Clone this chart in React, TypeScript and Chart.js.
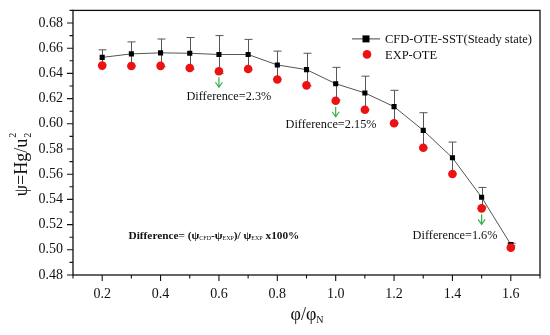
import React, { useEffect, useRef } from "react";
import { Chart, registerables } from "chart.js";

Chart.register(...registerables);

// ---- data ----
const flowRatio = [0.2, 0.3, 0.4, 0.5, 0.6, 0.7, 0.8, 0.9, 1.0, 1.1, 1.2, 1.3, 1.4, 1.5, 1.6];
const cfdHead = [0.6527, 0.6555, 0.6563, 0.656, 0.655, 0.655, 0.6467, 0.643, 0.6318, 0.6245, 0.6136, 0.5948, 0.573, 0.5417, 0.5042];
const cfdError = [0.006, 0.0095, 0.011, 0.0125, 0.015, 0.012, 0.011, 0.013, 0.013, 0.0133, 0.013, 0.014, 0.0125, 0.0078, 0.001];
const expHead = [0.6462, 0.6459, 0.646, 0.6443, 0.6417, 0.6435, 0.6352, 0.6305, 0.6183, 0.6111, 0.6004, 0.581, 0.5602, 0.5329, 0.5017];

const seriesNames = ["CFD-OTE-SST(Steady state)", "EXP-OTE"];

const xMin = 0.1;
const xMax = 1.7;
const yMin = 0.48;
const yMax = 0.69;

// difference notes: arrow at data x, label centred at data (lx, ly)
const noteArrowX = [0.6, 1.0, 1.5];
const noteLabels = ["Difference=2.3%", "Difference=2.15%", "Difference=1.6%"];
const noteLabelX = [0.634, 0.984, 1.409];
const noteLabelY = [0.6214, 0.5995, 0.5113];

const formulaX = 0.583;
const formulaY = 0.5105;

const SERIF = "'Liberation Serif', 'Times New Roman', serif";

const overlayPlugin = {
  id: "overlay",
  beforeDatasetsDraw(chart: any) {
    const ctx = chart.ctx;
    const xs = chart.scales.x;
    const ys = chart.scales.y;
    ctx.save();
    ctx.strokeStyle = "#555";
    ctx.lineWidth = 1;
    flowRatio.forEach((fx, i) => {
      const px = Math.round(xs.getPixelForValue(fx)) + 0.5;
      const top = ys.getPixelForValue(cfdHead[i] + cfdError[i]);
      const bot = ys.getPixelForValue(cfdHead[i] - cfdError[i]);
      ctx.beginPath();
      ctx.moveTo(px, top);
      ctx.lineTo(px, bot);
      ctx.moveTo(px - 4, top);
      ctx.lineTo(px + 4, top);
      ctx.moveTo(px - 4, bot);
      ctx.lineTo(px + 4, bot);
      ctx.stroke();
    });
    ctx.restore();
  },
  afterDraw(chart: any) {
    const ctx = chart.ctx;
    const xs = chart.scales.x;
    const ys = chart.scales.y;
    const ca = chart.chartArea;
    ctx.save();
    // frame
    ctx.strokeStyle = "#111";
    ctx.lineWidth = 1.3;
    ctx.strokeRect(ca.left, ca.top, ca.right - ca.left, ca.bottom - ca.top);
    // ticks
    ctx.lineWidth = 1.1;
    ctx.beginPath();
    xs.ticks.forEach((t: any) => {
      const px = xs.getPixelForValue(t.value);
      const major = Math.round(t.value * 10) % 2 === 0;
      ctx.moveTo(px, ca.bottom);
      ctx.lineTo(px, ca.bottom + (major ? 6 : 3.5));
    });
    ys.ticks.forEach((t: any) => {
      const py = ys.getPixelForValue(t.value);
      const major = Math.round(t.value * 100) % 2 === 0;
      ctx.moveTo(ca.left, py);
      ctx.lineTo(ca.left - (major ? 6 : 3.5), py);
    });
    ctx.stroke();

    // y title: psi=Hg/u_2^2
    ctx.fillStyle = "#111";
    ctx.save();
    ctx.translate(22, 165);
    ctx.rotate(-Math.PI / 2);
    ctx.textBaseline = "middle";
    ctx.font = `18px ${SERIF}`;
    const main = "\u03c8=Hg/u";
    const mw = ctx.measureText(main).width;
    ctx.font = `10px ${SERIF}`;
    const sw = ctx.measureText("2").width;
    const total = mw + sw;
    ctx.font = `18px ${SERIF}`;
    ctx.textAlign = "left";
    ctx.fillText(main, -total / 2, 0);
    ctx.font = `10px ${SERIF}`;
    ctx.fillText("2", -total / 2 + mw + 1, 6);
    ctx.fillText("2", -total / 2 + mw + 1, -9);
    ctx.restore();

    // x title: phi/phi_N
    ctx.save();
    ctx.textBaseline = "middle";
    ctx.font = `18px ${SERIF}`;
    const xt = "\u03c6/\u03c6";
    const xw = ctx.measureText(xt).width;
    ctx.font = `10px ${SERIF}`;
    const nw = ctx.measureText("N").width;
    const xstart = 307 - (xw + nw) / 2;
    ctx.font = `18px ${SERIF}`;
    ctx.textAlign = "left";
    ctx.fillText(xt, xstart, 315);
    ctx.font = `10px ${SERIF}`;
    ctx.fillText("N", xstart + xw, 320);
    ctx.restore();

    // legend
    const lx = ca.right - 188;
    const ly1 = ca.top + 28;
    const ly2 = ca.top + 44;
    ctx.strokeStyle = "#444";
    ctx.lineWidth = 1;
    ctx.beginPath();
    ctx.moveTo(lx, ly1 + 0.5);
    ctx.lineTo(lx + 28, ly1 + 0.5);
    ctx.stroke();
    ctx.fillStyle = "#000";
    ctx.fillRect(lx + 14 - 3.5, ly1 - 3, 7, 7);
    ctx.fillStyle = "#ee1111";
    ctx.beginPath();
    ctx.arc(lx + 15, ly2, 4.3, 0, Math.PI * 2);
    ctx.fill();
    ctx.fillStyle = "#111";
    ctx.font = `12.5px ${SERIF}`;
    ctx.textAlign = "left";
    ctx.textBaseline = "middle";
    ctx.fillText(seriesNames[0], lx + 33, ly1 + 1);
    ctx.fillText(seriesNames[1], lx + 33, ly2 + 1);

    // notes
    noteArrowX.forEach((ax, i) => {
      const idx = flowRatio.indexOf(ax);
      const px = xs.getPixelForValue(ax);
      const top = ys.getPixelForValue(expHead[idx]) + 6;
      const len = 10;
      ctx.strokeStyle = "#33b04a";
      ctx.lineWidth = 1.2;
      ctx.beginPath();
      ctx.moveTo(px, top);
      ctx.lineTo(px, top + len);
      ctx.moveTo(px - 3.5, top + len - 5);
      ctx.lineTo(px, top + len);
      ctx.lineTo(px + 3.5, top + len - 5);
      ctx.stroke();
      ctx.fillStyle = "#111";
      ctx.font = `12.3px ${SERIF}`;
      ctx.textAlign = "center";
      ctx.textBaseline = "middle";
      ctx.fillText(noteLabels[i], xs.getPixelForValue(noteLabelX[i]), ys.getPixelForValue(noteLabelY[i]));
    });

    // formula
    const fx = xs.getPixelForValue(formulaX);
    const fy = ys.getPixelForValue(formulaY);
    const parts: [string, boolean][] = [
      ["Difference= (\u03c8", false],
      ["CFD", true],
      ["-\u03c8", false],
      ["EXP", true],
      [")/ \u03c8", false],
      ["EXP", true],
      [" x100%", false],
    ];
    const big = `600 11.3px ${SERIF}`;
    const small = `6px ${SERIF}`;
    let tw = 0;
    parts.forEach(([s, sub]) => {
      ctx.font = sub ? small : big;
      tw += ctx.measureText(s).width;
    });
    let cx = fx - tw / 2;
    ctx.textAlign = "left";
    ctx.textBaseline = "middle";
    parts.forEach(([s, sub]) => {
      ctx.font = sub ? small : big;
      ctx.fillText(s, cx, sub ? fy + 2 : fy);
      cx += ctx.measureText(s).width;
    });
    ctx.restore();
  },
};

export default function App() {
  const canvasRef = useRef<HTMLCanvasElement | null>(null);

  useEffect(() => {
    document.body.style.margin = "0";
    const canvas = canvasRef.current;
    if (!canvas) return;
    const chart = new Chart(canvas, {
      type: "scatter",
      data: {
        datasets: [
          {
            label: seriesNames[1],
            data: flowRatio.map((x, i) => ({ x, y: expHead[i] })),
            showLine: false,
            pointStyle: "circle",
            pointRadius: 4.3,
            pointBackgroundColor: "#ee1111",
            pointBorderColor: "#ee1111",
            borderWidth: 0,
            order: 0,
          },
          {
            label: seriesNames[0],
            data: flowRatio.map((x, i) => ({ x, y: cfdHead[i] })),
            showLine: true,
            borderColor: "#555",
            borderWidth: 1,
            pointStyle: "rect",
            pointRadius: 3.6,
            pointBackgroundColor: "#000",
            pointBorderColor: "#000",
            pointBorderWidth: 0,
            order: 1,
          },
        ],
      },
      options: {
        responsive: false,
        animation: false,
        devicePixelRatio: 1,
        layout: { padding: { top: 7, right: 10, left: 0, bottom: 0 } },
        plugins: {
          legend: { display: false },
          tooltip: { enabled: false },
          title: { display: false },
        },
        scales: {
          x: {
            type: "linear",
            min: xMin,
            max: xMax,
            grid: { display: false },
            border: { display: false },
            ticks: {
              stepSize: 0.1,
              autoSkip: false,
              maxRotation: 0,
              padding: 3,
              color: "#111",
              font: { family: SERIF, size: 14 },
              callback: (v: any) => (Math.round(Number(v) * 10) % 2 === 0 ? Number(v).toFixed(1) : ""),
            },
            afterFit: (s: any) => {
              s.height = 60;
            },
          },
          y: {
            type: "linear",
            min: yMin,
            max: yMax,
            grid: { display: false },
            border: { display: false },
            ticks: {
              stepSize: 0.01,
              autoSkip: false,
              padding: 2,
              color: "#111",
              font: { family: SERIF, size: 14 },
              callback: (v: any) => (Math.round(Number(v) * 100) % 2 === 0 ? Number(v).toFixed(2) : ""),
            },
            afterFit: (s: any) => {
              s.width = 73;
            },
          },
        },
      },
      plugins: [overlayPlugin],
    });
    return () => chart.destroy();
  }, []);

  return (
    <div style={{ position: "absolute", left: 0, top: 0, width: 550, height: 335, background: "#fff" }}>
      <canvas ref={canvasRef} width={550} height={335} style={{ width: 550, height: 335, display: "block" }} />
    </div>
  );
}
